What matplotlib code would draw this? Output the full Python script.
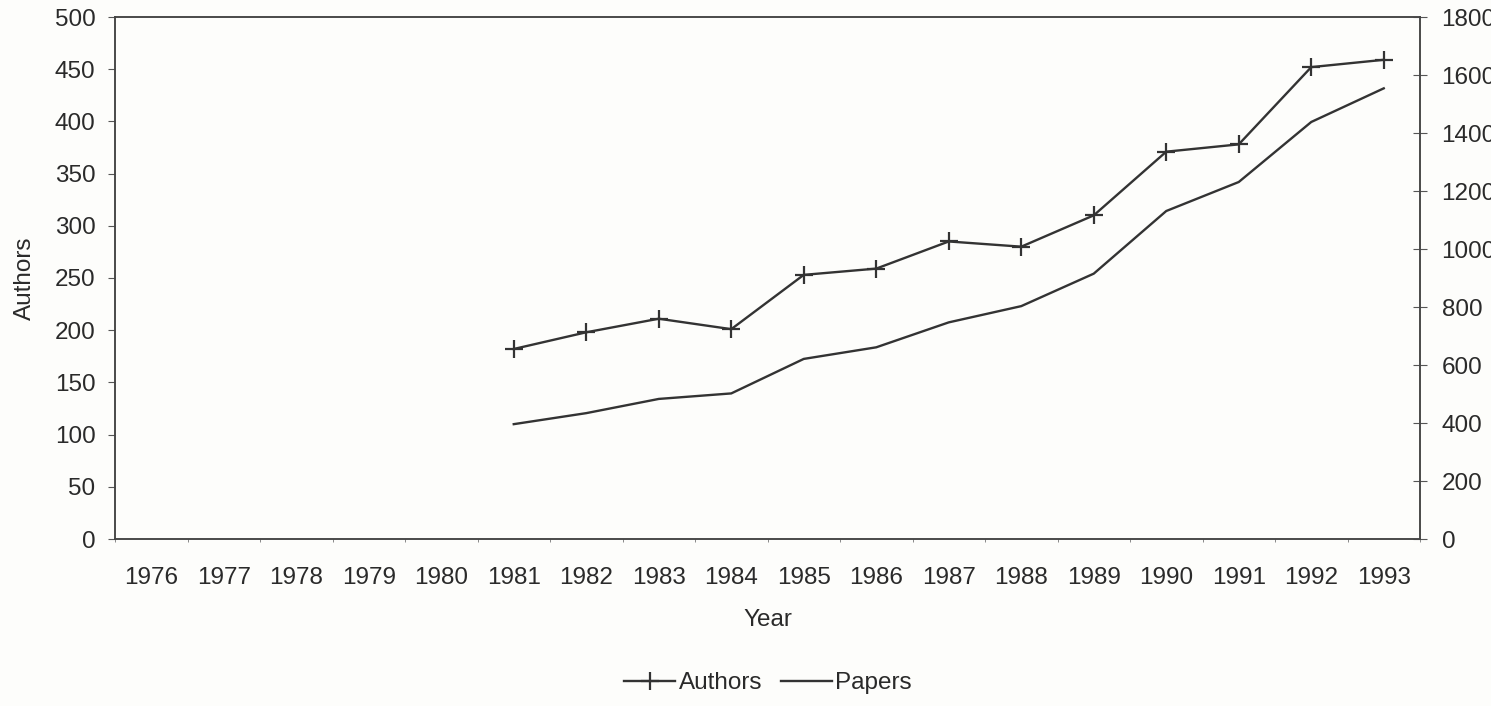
import matplotlib
matplotlib.use("Agg")
import matplotlib.pyplot as plt
from matplotlib.ticker import MultipleLocator, FixedLocator

plt.rcParams['font.family'] = ['Liberation Sans', 'DejaVu Sans']

years = list(range(1976, 1994))
data_years = list(range(1981, 1994))
authors = [182, 198, 211, 201, 253, 259, 285, 280, 310, 371, 378, 452, 459]
papers = [396, 434, 483, 502, 621, 661, 747, 803, 915, 1131, 1231, 1438, 1554]

W, H = 1491, 706
FS = 17.5
fig = plt.figure(figsize=(W / 100, H / 100), dpi=100)
fig.patch.set_facecolor('#fdfdfb')
ax = fig.add_axes([115 / W, 1 - 539 / H, (1420 - 115) / W, (539 - 17) / H])
ax.set_facecolor('#fdfdfb')
ax2 = ax.twinx()

col = '#333333'
l1, = ax.plot(data_years, authors, color=col, lw=1.7, marker='+', ms=13, mew=1.6, label='Authors')
l2, = ax2.plot(data_years, papers, color=col, lw=1.7, label='Papers')

ax.set_xlim(1975.5, 1993.5)
ax.set_ylim(0, 500)
ax2.set_ylim(0, 1800)
ax.yaxis.set_major_locator(MultipleLocator(50))
ax2.yaxis.set_major_locator(MultipleLocator(200))
ax.set_xticks(years)
ax.set_xticklabels([str(y) for y in years])
ax.xaxis.set_minor_locator(FixedLocator([y + 0.5 for y in range(1975, 1994)]))

for a in (ax, ax2):
    for s in a.spines.values():
        s.set_color('#444444')
        s.set_linewidth(1.1)

ax.tick_params(axis='y', which='major', direction='out', length=5, width=0.8, colors='#555555',
               labelcolor='#2a2a2a', labelsize=FS, pad=9)
ax.tick_params(axis='x', which='major', length=0, labelcolor='#2a2a2a', labelsize=FS, pad=20)
ax.tick_params(axis='x', which='minor', direction='out', length=2, width=0.6, colors='#777777')
ax2.tick_params(axis='y', direction='inout', length=10, width=0.8, colors='#555555',
                labelcolor='#2a2a2a', labelsize=FS, pad=10.5)

fig.text(768 / W, 1 - 620 / H, 'Year', fontsize=FS, color='#2a2a2a', ha='center', va='center')
fig.text(25 / W, 1 - 278 / H, 'Authors', fontsize=FS, color='#2a2a2a', ha='center', va='center',
         rotation=90)

fig.legend(handles=[l1, l2], labels=['Authors', 'Papers'], loc='center',
           bbox_to_anchor=(768 / W, 1 - 683 / H), ncol=2, frameon=False,
           fontsize=FS, handlelength=2.1, handletextpad=0.15, columnspacing=0.75,
           labelcolor='#2a2a2a', borderpad=0.2)

fig.savefig('out.png', dpi=100, facecolor=fig.get_facecolor())
